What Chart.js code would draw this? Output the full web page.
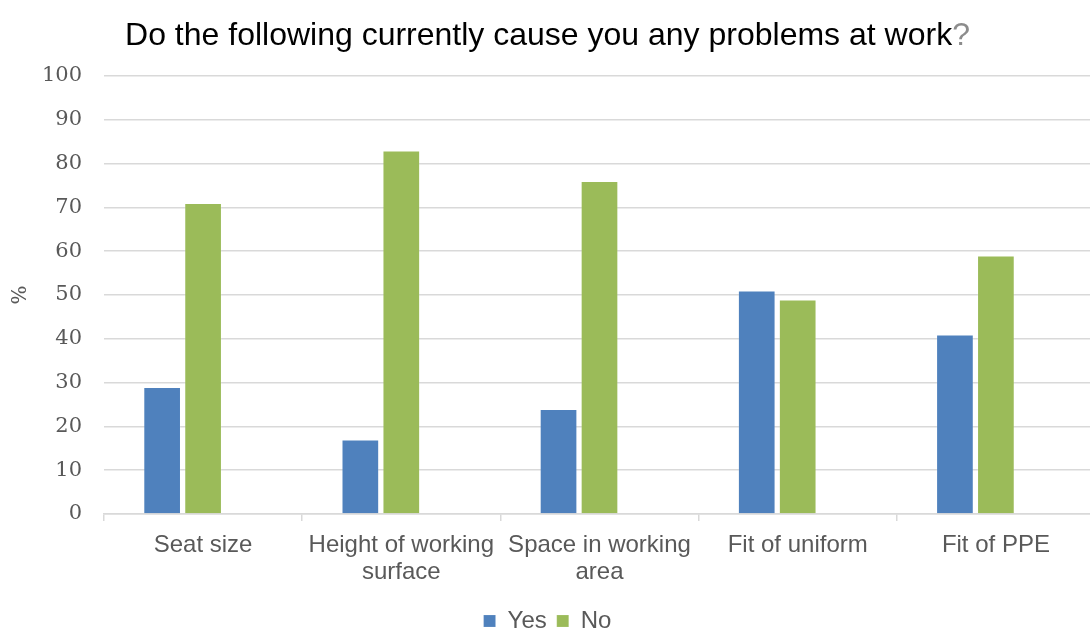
<!DOCTYPE html>
<html lang="en">
<head>
    <meta charset="UTF-8">
    <title>Problems at work</title>
    <script src="https://cdn.jsdelivr.net/npm/chart.js"></script>
    <style>
        html, body { margin: 0; padding: 0; background: #ffffff; overflow: hidden; }
        /* the original chart is a bit wider than the window and gets cut at the right */
        .chart-container { position: relative; width: 1095px; height: 632px; }
    </style>
</head>
<body>
<div class="chart-container">
    <canvas id="work-chart"></canvas>
</div>
<script>
    // Data
    const chartTitle = 'Do the following currently cause you any problems at work';
    const categories = [
        ['Seat size'],
        ['Height of working', 'surface'],
        ['Space in working', 'area'],
        ['Fit of uniform'],
        ['Fit of PPE']
    ];
    const yesValues = [29, 17, 24, 51, 41];
    const noValues = [71, 83, 76, 49, 59];
    const yTicks = [0, 10, 20, 30, 40, 50, 60, 70, 80, 90, 100];

    const tickGrey = '#595959';
    const gridGrey = '#D9D9D9';

    // Title in black with a grey question mark, like the original
    const titlePlugin = {
        id: 'twoToneTitle',
        afterDraw(chart) {
            const ctx = chart.ctx;
            ctx.save();
            ctx.font = '32px "Liberation Sans", Arial, sans-serif';
            ctx.textBaseline = 'alphabetic';
            ctx.textAlign = 'left';
            const mainW = ctx.measureText(chartTitle).width;
            const qW = ctx.measureText('?').width;
            const x0 = chart.width / 2 - (mainW + qW) / 2;
            ctx.fillStyle = '#000000';
            ctx.fillText(chartTitle, x0, 45);
            ctx.fillStyle = '#8C8C8C';
            ctx.fillText('?', x0 + mainW, 45);
            ctx.restore();
        }
    };

    const ctx = document.getElementById('work-chart').getContext('2d');
    const workChart = new Chart(ctx, {
        type: 'bar',
        data: {
            labels: categories,
            datasets: [{
                label: 'Yes',
                data: yesValues,
                backgroundColor: '#4F81BD',
                borderColor: 'rgba(255,255,255,0.15)',
                borderWidth: 1
            }, {
                label: 'No',
                data: noValues,
                backgroundColor: '#9BBB59',
                borderColor: 'rgba(255,255,255,0.15)',
                borderWidth: 1
            }, {
                label: '', // empty third slot, as in the source chart
                data: [],
                backgroundColor: 'rgba(0,0,0,0)'
            }]
        },
        options: {
            responsive: true,
            maintainAspectRatio: false,
            animation: false,
            layout: {
                padding: { top: 76, right: 0, bottom: -11, left: 0 }
            },
            datasets: {
                bar: {
                    categoryPercentage: 0.62,
                    barPercentage: 0.92
                }
            },
            scales: {
                x: {
                    afterFit: (scale) => { scale.height = 85; },
                    grid: {
                        offset: true,
                        drawOnChartArea: false,
                        color: gridGrey,
                        lineWidth: 1.5,
                        tickLength: 7
                    },
                    border: { color: gridGrey, width: 1.5 },
                    ticks: {
                        color: tickGrey,
                        padding: 11,
                        font: { family: '"Liberation Sans", Arial, sans-serif', size: 24, lineHeight: 1.13 },
                        maxRotation: 0,
                        autoSkip: false
                    }
                },
                y: {
                    min: 0,
                    max: 100,
                    afterFit: (scale) => { scale.width = 104; },
                    afterBuildTicks: (scale) => { scale.ticks = yTicks.map(v => ({ value: v })); },
                    grid: {
                        color: gridGrey,
                        lineWidth: 1.5,
                        drawTicks: false
                    },
                    border: { display: false },
                    ticks: {
                        color: tickGrey,
                        padding: 22,
                        font: { family: '"DejaVu Serif", serif', size: 21 }
                    },
                    title: {
                        display: true,
                        text: '%',
                        color: tickGrey,
                        padding: { top: 9, bottom: 0 },
                        font: { family: '"DejaVu Serif", serif', size: 20 }
                    }
                }
            },
            plugins: {
                legend: {
                    position: 'bottom',
                    labels: {
                        color: tickGrey,
                        boxWidth: 12,
                        boxHeight: 12,
                        padding: 10,
                        font: { family: '"Liberation Sans", Arial, sans-serif', size: 24 },
                        filter: (item) => item.text !== ''
                    }
                },
                tooltip: { enabled: false }
            }
        },
        plugins: [titlePlugin]
    });
</script>
</body>
</html>
